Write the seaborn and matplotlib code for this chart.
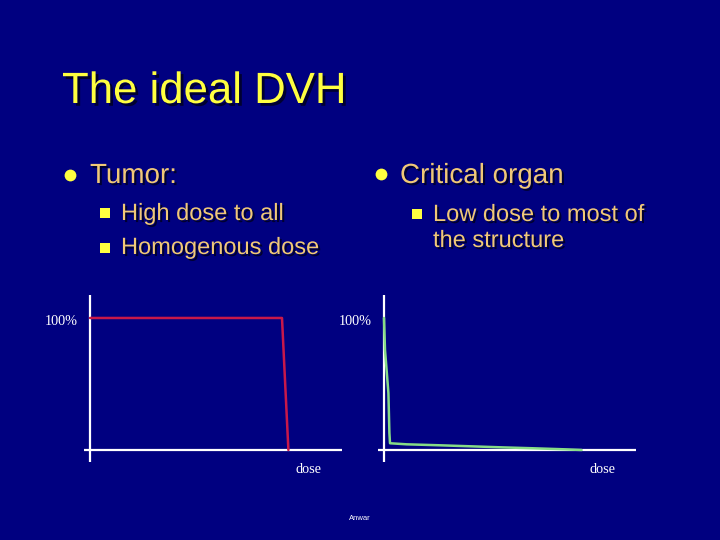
import matplotlib
matplotlib.use("Agg")
import matplotlib.pyplot as plt
import matplotlib.patheffects as pe
import seaborn as sns

# DVH curves (dose in arbitrary units, volume in %)
tumor_dose = [0, 96, 96.7, 98.3, 99.2]
tumor_volume = [100, 100, 78, 28, 0]

organ_dose = [0, 0.5, 1.3, 2.2, 2.7, 3.0, 11.3, 27, 43, 58.8, 74.5, 90.5, 98.8]
organ_volume = [100, 75.8, 60.6, 43.2, 12.9, 5.1, 4.3, 3.6, 2.8, 2.0, 1.3, 0.5, 0]

title_text = "The ideal DVH"
left_head = "Tumor:"
left_items = ["High dose to all", "Homogenous dose"]
right_head = "Critical organ"
right_items = ["Low dose to most of", "the structure"]
y_label = "100%"
x_label = "dose"
footer = "Anwar"

navy = "#000080"
yellow = "#FFFF40"
tan = "#F0C878"

sns.set_style("white", {"axes.facecolor": navy, "figure.facecolor": navy})
plt.rcParams['font.family'] = ['Liberation Sans', 'DejaVu Sans']

fig = plt.figure(figsize=(7.2, 5.4), dpi=100)
fig.patch.set_facecolor(navy)

W, H = 720.0, 540.0


def fx(px):
    return px / W


def fy(py):
    return 1 - py / H


def shadow_text(x, y, s, size, color, off=1.5):
    fx_ = [pe.withSimplePatchShadow(offset=(off, -off), shadow_rgbFace="#000030", alpha=1.0)]
    fig.text(fx(x), fy(y), s, fontsize=size, color=color, va="baseline", path_effects=fx_)


shadow_text(62, 103, title_text, 31.5, yellow, off=2)


# bullets
def circle_bullet(x, y):
    fig.add_artist(plt.Line2D([fx(x)], [fy(y)], marker='o', markersize=8.5, color=yellow,
                              markeredgewidth=0, transform=fig.transFigure))


def square_bullet(x, y):
    fig.add_artist(plt.Line2D([fx(x)], [fy(y)], marker='s', markersize=7, color=yellow,
                              markeredgewidth=0, transform=fig.transFigure))


circle_bullet(70, 175)
shadow_text(90, 183, left_head, 20, tan)
square_bullet(105, 212.5)
shadow_text(121, 220, left_items[0], 17, tan)
square_bullet(105, 248)
shadow_text(121, 254, left_items[1], 17, tan)

circle_bullet(381, 174)
shadow_text(400, 183, right_head, 20, tan)
square_bullet(416.5, 213.5)
shadow_text(433, 221, right_items[0], 17, tan)
shadow_text(433, 247, right_items[1], 17, tan)

fig.text(fx(360), fy(518), footer, fontsize=5.5, color="white", ha="center", va="center")


def dvh_axes(left_px, dose, volume, color):
    ax = fig.add_axes([fx(left_px), fy(462), (342 - 84) / W, (462 - 295) / H])
    ax.set_facecolor(navy)
    ax.axhline(0, color="white", lw=1.6, zorder=1)
    ax.axvline(0, color="white", lw=1.6, zorder=1)
    sns.lineplot(x=dose, y=volume, sort=False, estimator=None, color=color, lw=1.8, ax=ax, zorder=2)
    ax.set_xlim(-3, 126)
    ax.set_ylim(-9.1, 117.4)
    for s in ax.spines.values():
        s.set_visible(False)
    ax.set_xticks([])
    ax.set_yticks([])
    ax.set_xlabel("")
    ax.set_ylabel("")
    ax.text(-6, 97.5, y_label, fontsize=10.3, color="white", ha="right", va="center",
            family="Liberation Serif", clip_on=False)
    ax.text(109, -15, x_label, fontsize=10.3, color="white", ha="center", va="center",
            family="Liberation Serif", clip_on=False)
    return ax


dvh_axes(84, tumor_dose, tumor_volume, "#C8184A")
dvh_axes(378, organ_dose, organ_volume, "#86DC86")

fig.savefig("out.png", dpi=100, facecolor=navy)
